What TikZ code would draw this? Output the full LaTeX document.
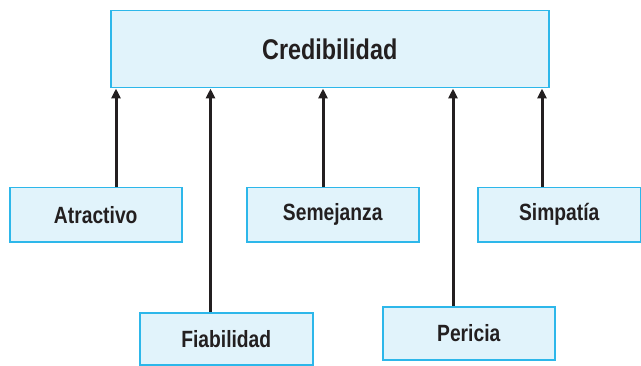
\documentclass[tikz,border=0pt]{standalone}
\usepackage{fontspec}
\setmainfont{Liberation Sans}[FakeStretch=0.82]
\usetikzlibrary{arrows.meta}
\definecolor{boxfill}{HTML}{E1F3FB}
\definecolor{boxline}{HTML}{2DB7EA}
\definecolor{ink}{HTML}{231F20}
\tikzset{
  box/.style={draw=boxline, fill=boxfill, line width=1.5pt, inner sep=0pt, anchor=north west, text=ink, font=\bfseries\fontsize{23.5}{27}\selectfont},
  arr/.style={draw=ink, line width=3pt, -{Triangle[length=10pt,width=9pt]}}
}
\begin{document}
\begin{tikzpicture}[x=1pt,y=1pt]
\useasboundingbox (0,0) rectangle (641,365);
% y_tikz = 365 - y_img
\node[box, minimum width=438pt, minimum height=77pt, font=\bfseries\fontsize{28.5}{32}\selectfont] (cred) at (110,355) {Credibilidad};
\node[box, minimum width=172pt, minimum height=54pt] (atr) at (9,178) {Atractivo};
\node[box, minimum width=172pt, minimum height=54pt] (sem) at (246,178) {Semejanza};
\node[box, minimum width=163pt, minimum height=54pt] (sim) at (477,178) {Simpatía};
\node[box, minimum width=173pt, minimum height=52pt] (fia) at (139,53) {Fiabilidad};
\node[box, minimum width=172pt, minimum height=53pt] (per) at (382,59) {Pericia};
\draw[arr] (atr.north -| 116,0) -- (cred.south -| 116,0);
\draw[arr] (fia.north -| 210.5,0) -- (cred.south -| 210.5,0);
\draw[arr] (sem.north -| 323,0) -- (cred.south -| 323,0);
\draw[arr] (per.north -| 453,0) -- (cred.south -| 453,0);
\draw[arr] (sim.north -| 542,0) -- (cred.south -| 542,0);
\end{tikzpicture}
\end{document}
